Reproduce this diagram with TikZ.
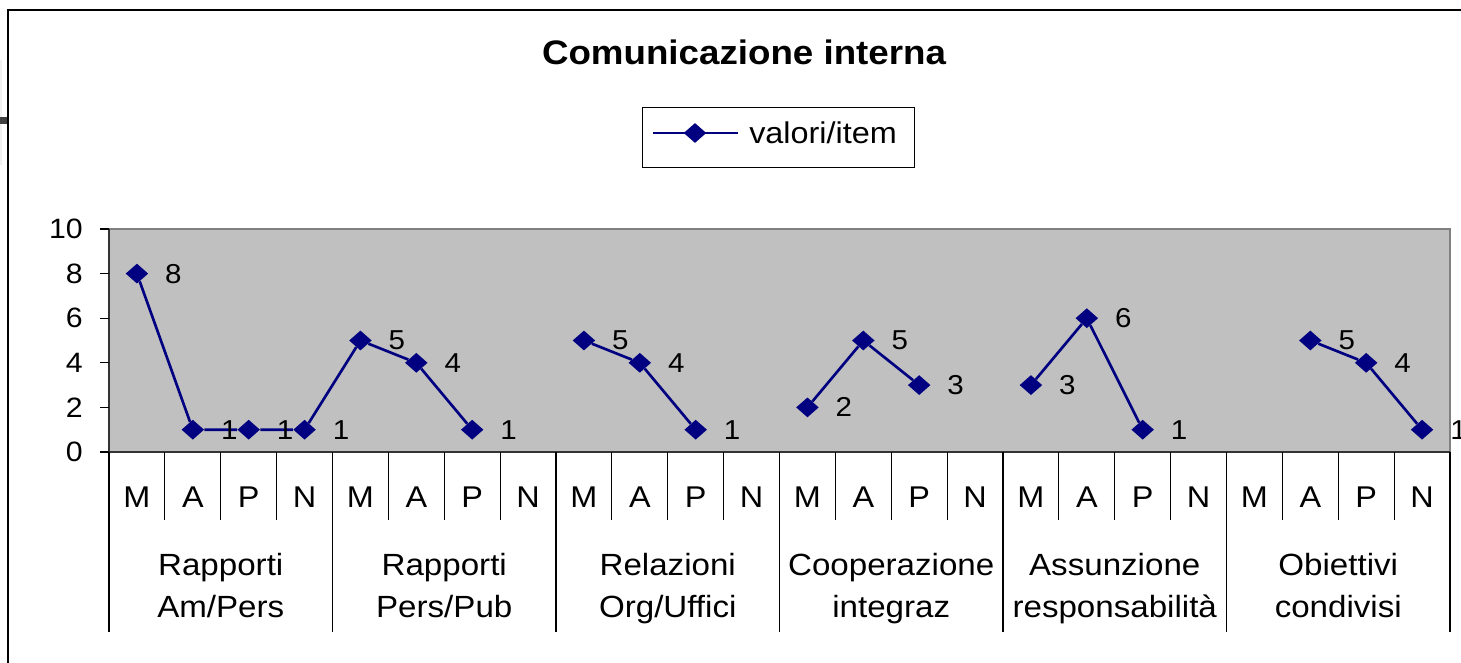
\documentclass[tikz,border=0pt]{standalone}
\usepackage{fontspec}
\setmainfont[FakeStretch=1.08]{Liberation Sans}
\usetikzlibrary{shapes.geometric}
\definecolor{navy}{RGB}{0,0,128}
\definecolor{plotgray}{RGB}{192,192,192}
\definecolor{bordergray}{RGB}{128,128,128}
\begin{document}
\begin{tikzpicture}[x=0.75pt,y=-0.75pt,
  mk/.style={diamond,fill=navy,inner sep=0pt,minimum width=17pt,minimum height=15pt},
  ser/.style={draw=navy,line width=2pt},
  val/.style={anchor=west,inner sep=0pt,font=\fontsize{20.5pt}{24pt}\selectfont},
  ylab/.style={anchor=east,inner sep=0pt,font=\fontsize{21pt}{24pt}\selectfont},
  cat/.style={anchor=base,inner sep=0pt,font=\fontsize{22.5pt}{26pt}\selectfont},
  grp/.style={anchor=base,inner sep=0pt,align=center,font=\fontsize{23pt}{31.5pt}\selectfont},
  tick/.style={draw=black,line width=0.8pt}
]
\useasboundingbox (0,0) rectangle (1461,663);
% outer frame
\fill[black!6] (0,60) rectangle (2,165);
\fill[black!75] (0,117) rectangle (8,124);
\draw[line width=0.9pt] (8,663) -- (8,10) -- (1461,10);
% title
\node[font=\bfseries\fontsize{25.5pt}{28pt}\selectfont,inner sep=0pt] (title) at (744,52) {Comunicazione interna};
% legend
\node[draw=black,line width=0.6pt,fill=white,minimum width=204pt,minimum height=45pt,inner sep=0pt] (leg) at (778,137) {};
\coordinate (la) at (653,133);
\coordinate (lb) at (738,133);
\draw[ser] (la) -- (lb);
\node[mk] (lm) at (695,133) {};
\node[anchor=west,inner sep=0pt,font=\fontsize{22.5pt}{24pt}\selectfont] (legtext) at (749,133) {valori/item};
% plot area
\fill[plotgray] (109,229) rectangle (1450,452);
\draw[bordergray,line width=1.4pt] (109,452) -- (1450,452) -- (1450,229) -- (109,229);
\draw[black!80,line width=1pt] (109,229) -- (109,452);
\draw[black!80,line width=1pt] (100,452) -- (1450,452);
% y axis
\foreach \t in {0,2,...,10}{
  \draw[tick] (100,{452-22.3*\t}) -- (109,{452-22.3*\t});
  \node[ylab] (y\t) at (83,{452-22.3*\t}) {\t};
}
% category separators
\foreach \k in {0,...,24}{
  \pgfmathtruncatemacro{\r}{mod(\k,4)}
  \ifnum\r=0
    \draw[black,line width=0.8pt] ({109+55.875*\k},452) -- ({109+55.875*\k},632);
  \else
    \draw[black,line width=0.8pt] ({109+55.875*\k},452) -- ({109+55.875*\k},520);
  \fi
}
% category letters
\foreach \i/\l in {0/M,1/A,2/P,3/N,4/M,5/A,6/P,7/N,8/M,9/A,10/P,11/N,12/M,13/A,14/P,15/N,16/M,17/A,18/P,19/N,20/M,21/A,22/P,23/N}{
  \node[cat] (c\i) at ({109+55.875*(\i+0.5)},507) {\l};
}
% group labels (base = baseline of the last line)
\node[grp] (g0) at ({109+55.875*2},617) {Rapporti\\Am/Pers};
\node[grp] (g1) at ({109+55.875*6},617) {Rapporti\\Pers/Pub};
\node[grp] (g2) at ({109+55.875*10},617) {Relazioni\\Org/Uffici};
\node[grp] (g3) at ({109+55.875*14},617) {Cooperazione\\integraz};
\node[grp] (g4) at ({109+55.875*18},617) {Assunzione\\responsabilità};
\node[grp] (g5) at ({109+55.875*22},617) {Obiettivi\\condivisi};
% data points
\foreach \i/\v in {0/8,1/1,2/1,3/1,4/5,5/4,6/1,8/5,9/4,10/1,12/2,13/5,14/3,16/3,17/6,18/1,21/5,22/4,23/1}{
  \node[mk] (p\i) at ({109+55.875*(\i+0.5)},{452-22.3*\v}) {};
}
% series lines
\draw[ser] (p0) -- (p1) -- (p2) -- (p3) -- (p4) -- (p5) -- (p6);
\draw[ser] (p8) -- (p9) -- (p10);
\draw[ser] (p12) -- (p13) -- (p14);
\draw[ser] (p16) -- (p17) -- (p18);
\draw[ser] (p21) -- (p22) -- (p23);
% value labels
\foreach \i/\v in {0/8,1/1,2/1,3/1,4/5,5/4,6/1,8/5,9/4,10/1,12/2,13/5,14/3,16/3,17/6,18/1,21/5,22/4,23/1}{
  \node[val] (v\i) at ([xshift=21pt]p\i.center) {\v};
}
\end{tikzpicture}
\end{document}
